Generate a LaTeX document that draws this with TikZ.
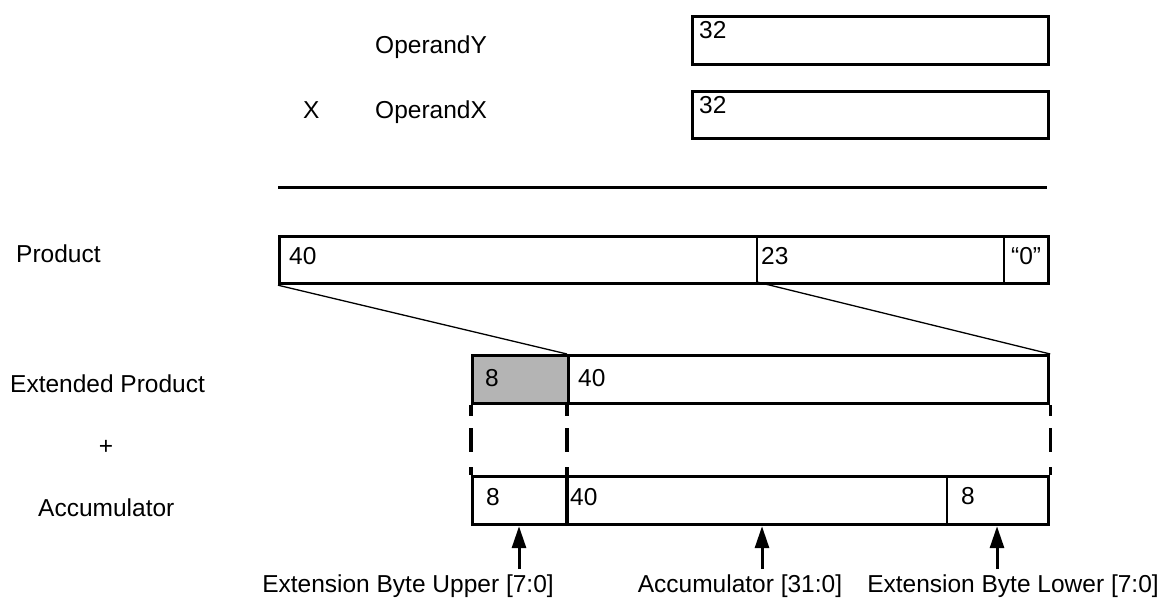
\documentclass[tikz,border=0pt]{standalone}
\usepackage{fontspec}
\setmainfont{Liberation Sans}
\usetikzlibrary{arrows.meta}
\begin{document}
\begin{tikzpicture}[x=1pt,y=-1pt,
  lbl/.style={inner sep=0pt, anchor=base west, font=\fontsize{24.5}{28}\selectfont},
  clbl/.style={inner sep=0pt, anchor=base, font=\fontsize{24.5}{28}\selectfont},
  reg/.style={draw, line width=3.2pt, inner sep=0pt, anchor=north west},
  div/.style={line width=2.2pt},
  divthick/.style={line width=3.2pt},
  diag/.style={line width=1.3pt},
  gap/.style={line width=3.2pt, dash pattern=on 11pt off 12pt on 24pt off 15pt},
  ptr/.style={line width=3pt, -{Triangle[length=22pt,width=14pt]}}]
\useasboundingbox (0,0) rectangle (1157,598);

% operands
\node[reg, minimum width=356pt, minimum height=48pt] (opy) at (691,15) {};
\node[reg, minimum width=356pt, minimum height=47pt] (opx) at (691,90) {};
\node[lbl] (opyv) at (699,38) {32};
\node[lbl] (opxv) at (699,113) {32};
\node[lbl] (opyl) at (375,53) {OperandY};
\node[lbl] (xs) at (303,118) {X};
\node[lbl] (opxl) at (375,118) {OperandX};

% rule
\coordinate (rl) at (278,187);
\coordinate (rr) at (1047,187);
\draw[line width=3pt] (rl) -- (rr);

% product
\node[lbl] (prodl) at (16,262) {Product};
\node[reg, minimum width=769pt, minimum height=47pt] (prod) at (278,235) {};
\coordinate (pd1t) at (757,235);
\coordinate (pd1b) at (757,282);
\coordinate (pd2t) at (1004,235);
\coordinate (pd2b) at (1004,282);
\draw[div] (pd1t) -- (pd1b);
\draw[div] (pd2t) -- (pd2b);
\node[lbl] (p40) at (289,264) {40};
\node[lbl] (p23) at (761,264) {23};
\node[lbl] (p0) at (1011,264) {“0”};

% extended product
\node[lbl] (extl) at (10,392) {Extended Product};
\node[reg, fill={rgb,255:red,180;green,180;blue,180}, minimum width=96pt, minimum height=48pt] (ext8) at (471,354) {};
\node[reg, minimum width=480pt, minimum height=48pt] (ext40) at (567,354) {};
\node[lbl] (e8) at (485,386) {8};
\node[lbl] (e40) at (578,386) {40};

% diagonals
\draw[diag] (prod.south west) -- (ext40.north west);
\draw[diag] (pd1b) -- (ext40.north east);

% plus
\node[clbl] (plus) at (106,454) {+};

% accumulator
\node[lbl] (accl) at (38,516) {Accumulator};
\node[reg, minimum width=576pt, minimum height=48pt] (acc) at (471,475) {};
\coordinate (ad1t) at (567,475);
\coordinate (ad1b) at (567,523);
\coordinate (ad2t) at (947,475);
\coordinate (ad2b) at (947,523);
\draw[divthick] (ad1t) -- (ad1b);
\draw[div] (ad2t) -- (ad2b);
\node[lbl] (a8) at (486,505) {8};
\node[lbl] (a40) at (570,505) {40};
\node[lbl] (a8r) at (961,504) {8};

% dashed gaps
\draw[gap] (ext8.south west) -- (acc.north west);
\draw[gap] (ext40.south west) -- (ad1t);
\draw[gap] (ext40.south east) -- (acc.north east);

% pointers
\coordinate (tU) at (519,569);
\coordinate (tA) at (762,569);
\coordinate (tL) at (997,569);
\draw[ptr] (tU) -- (tU |- acc.south);
\draw[ptr] (tA) -- (tA |- acc.south);
\draw[ptr] (tL) -- (tL |- acc.south);
\node[clbl] (lU) at (408,592) {Extension Byte Upper [7:0]};
\node[clbl] (lA) at (740,592) {Accumulator [31:0]};
\node[clbl] (lL) at (1013,592) {Extension Byte Lower [7:0]};
\end{tikzpicture}
\end{document}
